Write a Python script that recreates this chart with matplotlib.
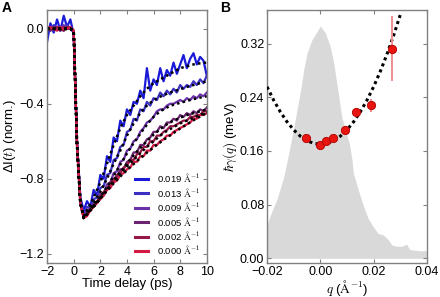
import numpy as np
import matplotlib
matplotlib.use('Agg')
import matplotlib.pyplot as plt

plt.rcParams['font.family'] = ['Liberation Sans', 'DejaVu Sans']
plt.rcParams['mathtext.fontset'] = 'cm'

# ---- panel A: time traces ----
t = np.arange(-2, 10.01, 0.25)
q_labels = ['0.019', '0.013', '0.009', '0.005', '0.002', '0.000']
colors = ['#1a1ad8', '#3c30c4', '#6a30a8', '#6c2470', '#961848', '#d41a44']

pre = [0.0] * 8
drop = [-0.01, -0.62, -0.93]

d019 = [-0.07, 0.03, -0.02, 0.05, -0.01, 0.07, 0.01, 0.05, -0.03, -0.60, -0.90,
        -0.97, -0.92, -0.95, -0.86, -0.89, -0.78, -0.80, -0.68, -0.71, -0.58, -0.60,
        -0.49, -0.52, -0.43, -0.46, -0.39, -0.40, -0.33, -0.37, -0.21, -0.33, -0.27,
        -0.30, -0.21, -0.28, -0.22, -0.25, -0.18, -0.24, -0.19, -0.14, -0.21, -0.16,
        -0.13, -0.19, -0.15, -0.17, -0.25]
d013 = [0.01, -0.01, 0.02, 0.0, 0.01, -0.01, 0.02, 0.0, -0.02, -0.61, -0.92,
        -0.99, -0.95, -0.96, -0.91, -0.90, -0.85, -0.84, -0.78, -0.77, -0.70, -0.69,
        -0.63, -0.62, -0.55, -0.54, -0.48, -0.49, -0.43, -0.44, -0.39, -0.41, -0.37,
        -0.38, -0.34, -0.36, -0.33, -0.35, -0.32, -0.34, -0.30, -0.32, -0.30, -0.31,
        -0.28, -0.30, -0.27, -0.29, -0.25]
d009 = [0.0, 0.01, -0.01, 0.01, 0.0, 0.02, 0.0, 0.01, -0.01, -0.62, -0.93,
        -1.00, -0.97, -0.97, -0.93, -0.93, -0.88, -0.88, -0.83, -0.82, -0.77, -0.76,
        -0.71, -0.70, -0.65, -0.64, -0.60, -0.59, -0.55, -0.53, -0.50, -0.49, -0.47,
        -0.44, -0.43, -0.43, -0.41, -0.40, -0.40, -0.39, -0.38, -0.39, -0.37, -0.38,
        -0.36, -0.37, -0.35, -0.36, -0.34]
d005 = [0.0, -0.01, 0.01, 0.0, -0.01, 0.01, 0.0, 0.0, -0.01, -0.62, -0.93,
        -1.01, -0.98, -0.97, -0.94, -0.93, -0.89, -0.89, -0.85, -0.84, -0.80, -0.79,
        -0.75, -0.75, -0.71, -0.70, -0.66, -0.66, -0.62, -0.62, -0.59, -0.58, -0.55,
        -0.55, -0.52, -0.53, -0.50, -0.50, -0.48, -0.49, -0.46, -0.47, -0.45, -0.46,
        -0.44, -0.45, -0.43, -0.44, -0.42]
d002 = [0.01, 0.0, 0.0, 0.01, 0.0, -0.01, 0.01, 0.0, -0.01, -0.62, -0.93,
        -1.01, -0.99, -0.96, -0.95, -0.92, -0.90, -0.87, -0.86, -0.82, -0.81, -0.78,
        -0.77, -0.74, -0.73, -0.70, -0.70, -0.67, -0.66, -0.63, -0.63, -0.60, -0.60,
        -0.57, -0.57, -0.55, -0.54, -0.52, -0.52, -0.51, -0.50, -0.49, -0.49, -0.47,
        -0.47, -0.46, -0.46, -0.44, -0.44]
d000 = [0.0, 0.01, 0.0, -0.01, 0.01, 0.0, 0.0, 0.01, -0.01, -0.62, -0.93,
        -1.01, -1.00, -0.97, -0.95, -0.93, -0.91, -0.89, -0.86, -0.85, -0.82, -0.81,
        -0.78, -0.77, -0.75, -0.74, -0.71, -0.71, -0.68, -0.68, -0.65, -0.65, -0.62,
        -0.62, -0.60, -0.59, -0.57, -0.57, -0.55, -0.54, -0.53, -0.52, -0.51, -0.50,
        -0.48, -0.48, -0.46, -0.46, -0.45]

f019 = pre + drop + [-1.0, -0.97, -0.935, -0.90, -0.86, -0.82, -0.77, -0.72, -0.67,
        -0.62, -0.575, -0.53, -0.495, -0.46, -0.435, -0.41, -0.385, -0.36, -0.34,
        -0.32, -0.305, -0.29, -0.28, -0.27, -0.26, -0.25, -0.24, -0.23, -0.22, -0.21,
        -0.205, -0.20, -0.195, -0.19, -0.187, -0.184, -0.182, -0.18]
f013 = pre + drop + [-1.0, -0.98, -0.955, -0.93, -0.90, -0.87, -0.835, -0.80, -0.76,
        -0.72, -0.685, -0.65, -0.61, -0.57, -0.537, -0.505, -0.475, -0.45, -0.428,
        -0.41, -0.395, -0.382, -0.371, -0.362, -0.354, -0.347, -0.34, -0.334, -0.328,
        -0.322, -0.316, -0.31, -0.305, -0.30, -0.295, -0.29, -0.285, -0.28]
f009 = pre + drop + [-1.0, -0.985, -0.965, -0.945, -0.92, -0.90, -0.87, -0.845, -0.815,
        -0.785, -0.755, -0.725, -0.695, -0.665, -0.637, -0.61, -0.585, -0.56, -0.535,
        -0.512, -0.49, -0.47, -0.455, -0.44, -0.43, -0.42, -0.412, -0.405, -0.40,
        -0.395, -0.39, -0.385, -0.38, -0.375, -0.371, -0.367, -0.363, -0.36]
f005 = pre + drop + [-1.01, -0.99, -0.97, -0.95, -0.928, -0.905, -0.882, -0.86, -0.835,
        -0.81, -0.787, -0.765, -0.742, -0.72, -0.697, -0.675, -0.655, -0.635, -0.617,
        -0.60, -0.582, -0.565, -0.55, -0.535, -0.522, -0.51, -0.50, -0.49, -0.482,
        -0.475, -0.467, -0.46, -0.455, -0.45, -0.445, -0.44, -0.435, -0.43]
f002 = pre + drop + [-1.01, -0.99, -0.97, -0.95, -0.928, -0.905, -0.882, -0.86, -0.837,
        -0.815, -0.795, -0.775, -0.755, -0.735, -0.717, -0.70, -0.682, -0.665, -0.647,
        -0.63, -0.615, -0.60, -0.585, -0.57, -0.557, -0.545, -0.535, -0.525, -0.515,
        -0.505, -0.497, -0.49, -0.482, -0.475, -0.467, -0.46, -0.452, -0.445]
f000 = pre + drop + [-1.01, -0.99, -0.965, -0.945, -0.925, -0.905, -0.885, -0.865, -0.845,
        -0.825, -0.806, -0.788, -0.771, -0.755, -0.738, -0.722, -0.706, -0.691, -0.676,
        -0.661, -0.647, -0.633, -0.619, -0.606, -0.593, -0.58, -0.568, -0.556, -0.544,
        -0.532, -0.521, -0.51, -0.499, -0.488, -0.478, -0.468, -0.458, -0.448]

traces = [d019, d013, d009, d005, d002, d000]
fits = [f019, f013, f009, f005, f002, f000]

# ---- panel B: damping vs q ----
q_pts = [-0.0055, 0.0, 0.0021, 0.0049, 0.0093, 0.0134, 0.019, 0.0269]
g_pts = [0.179, 0.169, 0.1745, 0.180, 0.1915, 0.2177, 0.228, 0.3127]
g_err = [0.005, 0.005, 0.004, 0.004, 0.005, 0.007, 0.010, 0.049]

q_fit = [-0.02, -0.0175, -0.015, -0.0125, -0.01, -0.0075, -0.005, -0.0025, 0.0,
         0.0025, 0.005, 0.0075, 0.01, 0.0125, 0.015, 0.0175, 0.02, 0.0225, 0.025,
         0.0275, 0.03]
g_fit = [0.2556, 0.2355, 0.2182, 0.2034, 0.1914, 0.182, 0.1754, 0.1713, 0.170,
         0.1713, 0.1754, 0.182, 0.1914, 0.2034, 0.2182, 0.2355, 0.2556, 0.2783, 0.3038,
         0.3318, 0.3626]

q_dist = [-0.02, -0.0188, -0.0163, -0.0137, -0.0119, -0.010, -0.0084, -0.0071, -0.0062,
          -0.005, -0.0031, 0.0, 0.0019, 0.0037, 0.005, 0.0063, 0.0081, 0.0109, 0.0119,
          0.0124, 0.0142, 0.0161, 0.018, 0.0199, 0.0217, 0.0236, 0.0255, 0.0268, 0.0286,
          0.0305, 0.0324, 0.0336, 0.0361, 0.038, 0.0393, 0.04]
dist = [0.050, 0.064, 0.088, 0.122, 0.156, 0.195, 0.229, 0.258, 0.282,
        0.306, 0.326, 0.346, 0.336, 0.316, 0.292, 0.258, 0.210, 0.171, 0.147,
        0.127, 0.103, 0.079, 0.059, 0.047, 0.037, 0.035, 0.028, 0.020, 0.018,
        0.018, 0.021, 0.013, 0.012, 0.011, 0.012, 0.010]

fig = plt.figure(figsize=(4.4, 2.97), dpi=100)
axA = fig.add_axes([0.107, 0.1145, 0.363, 0.8515])
axB = fig.add_axes([0.607, 0.1145, 0.363, 0.8515])

for tr, c, lab in zip(traces, colors, q_labels):
    axA.plot(t, tr, color=c, lw=1.6, label=lab + r' $\mathrm{\AA}^{-1}$')
for f in fits:
    axA.plot(t, f, color='k', lw=1.8, linestyle=(0, (1, 1.3)))

axA.set_xlim(-2, 10)
axA.set_ylim(-1.25, 0.1)
axA.set_xticks([-2, 0, 2, 4, 6, 8, 10])
axA.set_yticks([-1.2, -0.8, -0.4, 0.0])
axA.set_yticklabels(['\u22121.2', '\u22120.8', '\u22120.4', '0.0'])
axA.set_xlabel('Time delay (ps)', fontsize=9.5, labelpad=0)
axA.set_ylabel('\u0394I($t$) (norm.)', fontsize=9.5, labelpad=1)
leg = axA.legend(loc='lower right', fontsize=6.8, frameon=False, handlelength=1.4,
                 labelspacing=0.15, borderaxespad=0.3, handletextpad=0.9)
for h in leg.get_lines():
    h.set_linewidth(2.2)

axB.fill_between(q_dist, 0, dist, color='#d9d9d9', lw=0)
axB.plot(q_fit, g_fit, color='k', lw=2.2, linestyle=(0, (1, 1.1)), zorder=3)
axB.errorbar(q_pts, g_pts, yerr=g_err, fmt='o', color='#e8140f', ms=6,
             mec='#b00000', mew=0.6, ecolor='#f08c8c', elinewidth=1.4, capsize=0,
             zorder=4)
axB.set_xlim(-0.02, 0.04)
axB.set_ylim(-0.007, 0.37)
axB.set_xticks([-0.02, 0.0, 0.02, 0.04])
axB.set_xticklabels(['\u22120.02', '0.00', '0.02', '0.04'])
axB.set_yticks([0.0, 0.08, 0.16, 0.24, 0.32])
axB.set_yticklabels(['0.00', '0.08', '0.16', '0.24', '0.32'])
axB.set_xlabel(r'$q$ ($\mathrm{\AA}^{-1}$)', fontsize=9.5, labelpad=0)
axB.set_ylabel(r'$\hbar\gamma(q)$ (meV)', fontsize=9.5, labelpad=1)

for ax in (axA, axB):
    for s in ax.spines.values():
        s.set_color('#808080')
        s.set_linewidth(1.0)
    ax.tick_params(direction='in', length=3, width=0.8, color='#808080',
                   top=True, right=True, labelsize=9, pad=2)

fig.text(0.004, 0.995, 'A', fontsize=10, fontweight='bold', va='top', ha='left')
fig.text(0.500, 0.995, 'B', fontsize=10, fontweight='bold', va='top', ha='left')

fig.savefig('out.png', dpi=100)
